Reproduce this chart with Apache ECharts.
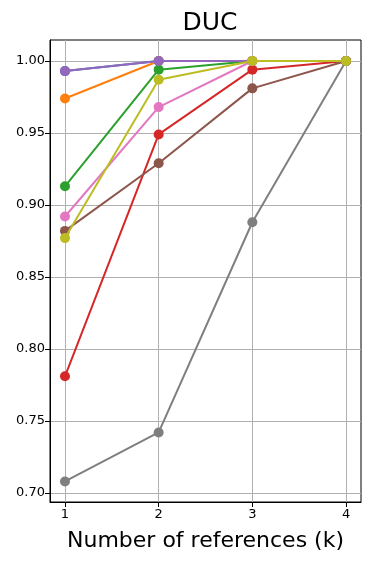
<!DOCTYPE html>
<html><head><meta charset="utf-8">
<script src="https://cdn.jsdelivr.net/npm/echarts@6/dist/echarts.min.js"></script>
<style>html,body{margin:0;padding:0;background:#fff}#c{width:370px;height:561px}</style>
</head><body><div id="c"></div>
<script>
const ks = [1, 2, 3, 4];
const yTicks = [0.70, 0.75, 0.80, 0.85, 0.90, 0.95, 1.00];
const colors = ['#1f77b4','#ff7f0e','#2ca02c','#d62728','#9467bd','#8c564b','#e377c2','#7f7f7f','#bcbd22'];
const s0 = [0.993, 1.000, 1.000, 1.000];
const s1 = [0.974, 1.000, 1.000, 1.000];
const s2 = [0.913, 0.994, 1.000, 1.000];
const s3 = [0.781, 0.949, 0.994, 1.000];
const s4 = [0.993, 1.000, 1.000, 1.000];
const s5 = [0.882, 0.929, 0.981, 1.000];
const s6 = [0.892, 0.968, 1.000, 1.000];
const s7 = [0.708, 0.742, 0.888, 1.000];
const s8 = [0.877, 0.987, 1.000, 1.000];
const allSeries = [s0, s1, s2, s3, s4, s5, s6, s7, s8];

const font = 'DejaVu Sans';
const chart = echarts.init(document.getElementById('c'), null, {renderer: 'canvas'});
chart.setOption({
  animation: false,
  backgroundColor: '#fff',
  title: {
    text: 'DUC', left: 205, top: 6, textAlign: 'center',
    textStyle: {fontFamily: font, fontSize: 25, fontWeight: 'normal', color: '#000'}
  },
  grid: {left: 50, right: 9, top: 40, bottom: 59, show: true, borderColor: '#000', borderWidth: 1, backgroundColor: 'transparent'},
  xAxis: {
    type: 'value', min: 0.84, max: 4.16,
    name: 'Number of references (k)', nameLocation: 'middle', nameGap: 28,
    nameTextStyle: {fontFamily: font, fontSize: 22, color: '#000', verticalAlign: 'top'},
    axisLine: {show: true, lineStyle: {color: '#000', width: 1}},
    axisTick: {show: true, length: 5, customValues: ks, lineStyle: {color: '#000'}},
    axisLabel: {customValues: ks, fontFamily: font, fontSize: 13, color: '#000', margin: 6, formatter: v => String(Math.round(v))},
    splitLine: {show: true, lineStyle: {color: '#b0b0b0', width: 1}}
  },
  yAxis: {
    type: 'value', min: 0.6937, max: 1.0146,
    axisLine: {show: true, lineStyle: {color: '#000', width: 1}},
    axisTick: {show: true, length: 5, customValues: yTicks, lineStyle: {color: '#000'}},
    axisLabel: {customValues: yTicks, fontFamily: font, fontSize: 13, color: '#000', margin: 5, formatter: v => v.toFixed(2)},
    splitLine: {show: true, lineStyle: {color: '#b0b0b0', width: 1}}
  },
  series: allSeries.map((d, i) => ({
    type: 'line', z: 2 + i,
    data: d.map((v, j) => [ks[j], v]),
    symbol: 'circle', symbolSize: 10,
    lineStyle: {color: colors[i], width: 2},
    itemStyle: {color: colors[i]},
    emphasis: {disabled: true}
  }))
});
</script></body></html>
